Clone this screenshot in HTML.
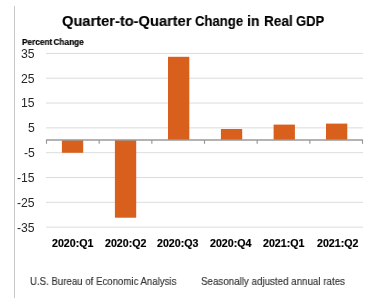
<!DOCTYPE html>
<html><head><meta charset="utf-8">
<style>
html,body{margin:0;padding:0;background:#fff;width:381px;height:307px;overflow:hidden;position:relative}
body{font-family:"Liberation Sans",sans-serif}
.t{position:absolute;white-space:nowrap;line-height:1;transform-origin:0 0;will-change:transform}
svg{position:absolute;left:0;top:0}
</style></head><body>
<svg width="381" height="307" viewBox="0 0 381 307">
<rect x="14" y="6" width="1" height="292" fill="#c8c8c8"/>
<g stroke="#dcdcdc" stroke-width="1">
<line x1="46" y1="53.40" x2="363" y2="53.40"/>
<line x1="46" y1="78.22" x2="363" y2="78.22"/>
<line x1="46" y1="103.04" x2="363" y2="103.04"/>
<line x1="46" y1="127.86" x2="363" y2="127.86"/>
<line x1="46" y1="152.68" x2="363" y2="152.68"/>
<line x1="46" y1="177.50" x2="363" y2="177.50"/>
<line x1="46" y1="202.32" x2="363" y2="202.32"/>
<line x1="46" y1="227.14" x2="363" y2="227.14"/>
</g>
<g fill="#d9601c">
<rect x="61.90" y="140" width="21.3" height="12.80"/>
<rect x="114.90" y="140" width="21.3" height="77.70"/>
<rect x="168.00" y="56.8" width="21.3" height="83.20"/>
<rect x="220.90" y="129.0" width="21.3" height="11.00"/>
<rect x="273.60" y="124.6" width="21.3" height="15.40"/>
<rect x="326.00" y="123.6" width="21.3" height="16.40"/>
</g>
<g stroke="#9a9a9a">
<line x1="46" y1="140.0" x2="363" y2="140.0" stroke-width="1.6"/>
<line x1="46.50" y1="140.0" x2="46.50" y2="143.8" stroke-width="1.2"/>
<line x1="99.17" y1="140.0" x2="99.17" y2="143.8" stroke-width="1.2"/>
<line x1="151.83" y1="140.0" x2="151.83" y2="143.8" stroke-width="1.2"/>
<line x1="204.50" y1="140.0" x2="204.50" y2="143.8" stroke-width="1.2"/>
<line x1="257.17" y1="140.0" x2="257.17" y2="143.8" stroke-width="1.2"/>
<line x1="309.83" y1="140.0" x2="309.83" y2="143.8" stroke-width="1.2"/>
<line x1="362.50" y1="140.0" x2="362.50" y2="143.8" stroke-width="1.2"/>
</g>
</svg>
<div class="t" style="left:62.17px;top:12.50px;font-size:15.0px;font-weight:bold;color:#000;transform:scaleX(0.9772);-webkit-text-stroke:0.15px #000">Quarter-to-Quarter</div>
<div class="t" style="left:195.04px;top:12.50px;font-size:15.0px;font-weight:bold;color:#000;transform:scaleX(0.8744);-webkit-text-stroke:0.15px #000">Change</div>
<div class="t" style="left:247.07px;top:12.50px;font-size:15.0px;font-weight:bold;color:#000;transform:scaleX(0.9304);-webkit-text-stroke:0.15px #000">in</div>
<div class="t" style="left:264.09px;top:12.50px;font-size:15.0px;font-weight:bold;color:#000;transform:scaleX(0.9085);-webkit-text-stroke:0.15px #000">Real</div>
<div class="t" style="left:296.25px;top:12.50px;font-size:15.0px;font-weight:bold;color:#000;transform:scaleX(0.8672);-webkit-text-stroke:0.15px #000">GDP</div>
<div class="t" style="left:21.53px;top:37.90px;font-size:8.8px;font-weight:bold;color:#000;transform:scaleX(0.9385);-webkit-text-stroke:0.2px #000;word-spacing:-1.2px">Percent Change</div>
<div class="t" style="left:29.72px;top:275.50px;font-size:10.6px;font-weight:normal;color:#333333;transform:scaleX(0.9110);-webkit-text-stroke:0.15px #333333;word-spacing:0px">U.S. Bureau of Economic Analysis</div>
<div class="t" style="left:200.94px;top:275.50px;font-size:10.6px;font-weight:normal;color:#333333;transform:scaleX(0.9224);-webkit-text-stroke:0.15px #333333;word-spacing:0px">Seasonally adjusted annual rates</div>
<div class="t" style="left:52.26px;top:238.70px;font-size:10.3px;font-weight:bold;color:#000;transform:scaleX(1.0344);-webkit-text-stroke:0.2px #000">2020:Q1</div>
<div class="t" style="left:104.86px;top:238.70px;font-size:10.3px;font-weight:bold;color:#000;transform:scaleX(1.0344);-webkit-text-stroke:0.2px #000">2020:Q2</div>
<div class="t" style="left:157.36px;top:238.70px;font-size:10.3px;font-weight:bold;color:#000;transform:scaleX(1.0344);-webkit-text-stroke:0.2px #000">2020:Q3</div>
<div class="t" style="left:210.38px;top:238.70px;font-size:10.3px;font-weight:bold;color:#000;transform:scaleX(1.0344);-webkit-text-stroke:0.2px #000">2020:Q4</div>
<div class="t" style="left:262.66px;top:238.70px;font-size:10.3px;font-weight:bold;color:#000;transform:scaleX(1.0344);-webkit-text-stroke:0.2px #000">2021:Q1</div>
<div class="t" style="left:316.51px;top:238.70px;font-size:10.3px;font-weight:bold;color:#000;transform:scaleX(1.0344);-webkit-text-stroke:0.2px #000">2021:Q2</div>
<div class="t" style="left:20.90px;top:47.85px;font-size:12.2px;color:#262626">35</div>
<div class="t" style="left:20.90px;top:72.67px;font-size:12.2px;color:#262626">25</div>
<div class="t" style="left:20.90px;top:97.36px;font-size:12.2px;color:#262626">15</div>
<div class="t" style="left:27.65px;top:122.19px;font-size:12.2px;color:#262626">5</div>
<div class="t" style="left:23.65px;top:147.00px;font-size:12.2px;color:#262626">-5</div>
<div class="t" style="left:16.90px;top:171.82px;font-size:12.2px;color:#262626">-15</div>
<div class="t" style="left:16.90px;top:196.77px;font-size:12.2px;color:#262626">-25</div>
<div class="t" style="left:16.90px;top:221.59px;font-size:12.2px;color:#262626">-35</div>
</body></html>
